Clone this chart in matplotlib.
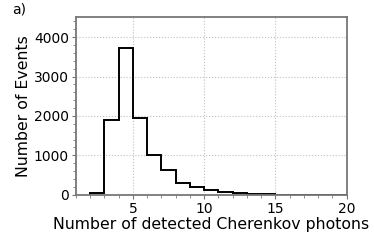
import numpy as np
import matplotlib
matplotlib.use("Agg")
import matplotlib.pyplot as plt
from matplotlib.ticker import AutoMinorLocator

# histogram bins (number of detected photons) and counts per bin
bin_edges = [2, 3, 4, 5, 6, 7, 8, 9, 10, 11, 12, 13, 14, 15, 16, 17, 18, 19, 20]
counts = [40, 1900, 3730, 1940, 1010, 620, 310, 200, 110, 70, 35, 15, 8, 5, 2, 1, 1, 0]

fig = plt.figure(figsize=(3.74, 2.49), dpi=100)
ax = fig.add_axes([0.203, 0.218, 0.724, 0.712])

ax.hist(bin_edges[:-1], bins=bin_edges, weights=counts, histtype="step",
        color="black", linewidth=1.4)

ax.set_xlim(1, 20)
ax.set_ylim(0, 4500)
ax.set_xticks([5, 10, 15, 20])
ax.set_yticks([0, 1000, 2000, 3000, 4000])
ax.xaxis.set_minor_locator(AutoMinorLocator())
ax.yaxis.set_minor_locator(AutoMinorLocator())
ax.grid(True, which="major", linestyle=":", color="#c0c0c0", linewidth=0.8)

for s in ax.spines.values():
    s.set_color("#777777")
    s.set_linewidth(1.3)
ax.tick_params(which="both", colors="#777777", labelcolor="black", labelsize=10, pad=2)
ax.tick_params(which="major", length=3)
ax.tick_params(which="minor", length=2)

ax.set_xlabel("Number of detected Cherenkov photons", fontsize=11.3, labelpad=1)
ax.set_ylabel("Number of Events", fontsize=11.3, labelpad=2)
fig.text(0.032, 0.99, "a)", fontsize=10, va="top", ha="left")

fig.savefig("out.png", dpi=100)
